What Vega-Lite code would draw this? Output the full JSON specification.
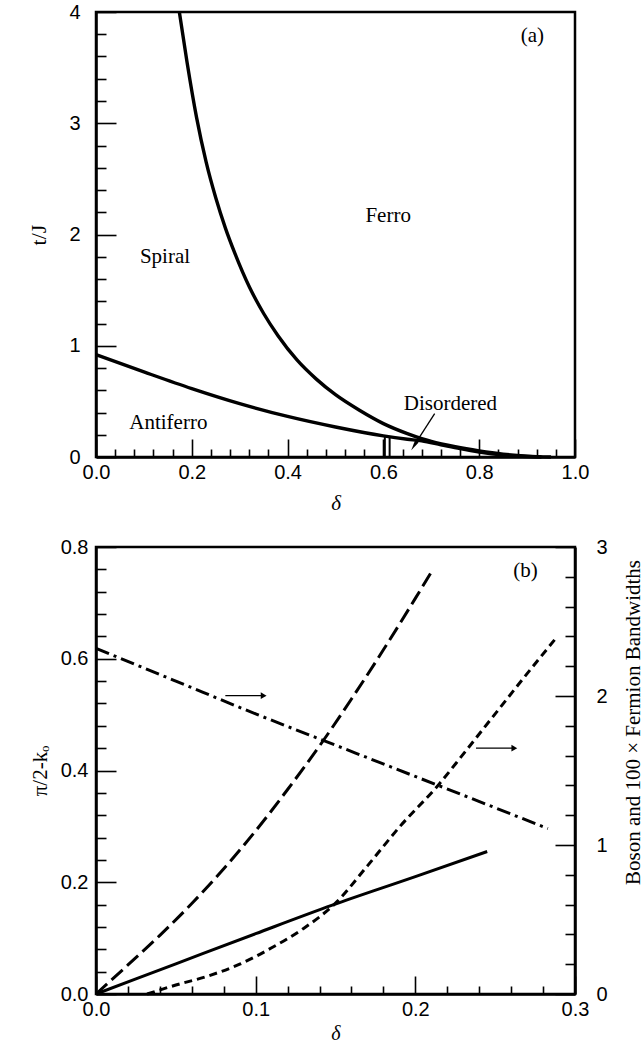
{
  "$schema": "https://vega.github.io/schema/vega-lite/v6.json",
  "background": "white",
  "padding": {"left": 25, "top": 0, "right": 0, "bottom": 0},
  "spacing": 90,
  "bounds": "flush",
  "config": {
    "view": {"stroke": "black", "strokeWidth": 2.5},
    "axis": {
      "domainColor": "black", "domainWidth": 2.5,
      "tickColor": "black", "tickWidth": 1.6,
      "labelFont": "Liberation Sans", "labelFontSize": 20, "labelColor": "black",
      "titleFont": "Liberation Serif", "titleFontWeight": "normal", "titleColor": "black",
      "grid": false, "labelOverlap": false, "labelFlush": false, "labelBound": false, "zindex": 1
    },
    "text": {"font": "Liberation Serif", "fontSize": 21, "color": "black"}
  },
  "datasets": {
    "phase": [
      {"curve": "spiral_ferro", "d": 0.174, "t": 4.0},
      {"curve": "spiral_ferro", "d": 0.19, "t": 3.55},
      {"curve": "spiral_ferro", "d": 0.21, "t": 3.05},
      {"curve": "spiral_ferro", "d": 0.23, "t": 2.65},
      {"curve": "spiral_ferro", "d": 0.25, "t": 2.33},
      {"curve": "spiral_ferro", "d": 0.27, "t": 2.06},
      {"curve": "spiral_ferro", "d": 0.29, "t": 1.83},
      {"curve": "spiral_ferro", "d": 0.32, "t": 1.53},
      {"curve": "spiral_ferro", "d": 0.35, "t": 1.29},
      {"curve": "spiral_ferro", "d": 0.38, "t": 1.09},
      {"curve": "spiral_ferro", "d": 0.42, "t": 0.87},
      {"curve": "spiral_ferro", "d": 0.46, "t": 0.70},
      {"curve": "spiral_ferro", "d": 0.50, "t": 0.56},
      {"curve": "spiral_ferro", "d": 0.55, "t": 0.42},
      {"curve": "spiral_ferro", "d": 0.60, "t": 0.30},
      {"curve": "spiral_ferro", "d": 0.65, "t": 0.21},
      {"curve": "spiral_ferro", "d": 0.68, "t": 0.165},
      {"curve": "spiral_ferro", "d": 0.70, "t": 0.14},
      {"curve": "spiral_ferro", "d": 0.75, "t": 0.092},
      {"curve": "spiral_ferro", "d": 0.80, "t": 0.055},
      {"curve": "spiral_ferro", "d": 0.85, "t": 0.026},
      {"curve": "spiral_ferro", "d": 0.90, "t": 0.008},
      {"curve": "spiral_ferro", "d": 0.95, "t": 0.0},
      {"curve": "antiferro", "d": 0.0, "t": 0.92},
      {"curve": "antiferro", "d": 0.1, "t": 0.765},
      {"curve": "antiferro", "d": 0.2, "t": 0.615},
      {"curve": "antiferro", "d": 0.3, "t": 0.48},
      {"curve": "antiferro", "d": 0.4, "t": 0.365},
      {"curve": "antiferro", "d": 0.5, "t": 0.27},
      {"curve": "antiferro", "d": 0.6, "t": 0.19},
      {"curve": "antiferro", "d": 0.65, "t": 0.16},
      {"curve": "antiferro", "d": 0.68, "t": 0.145},
      {"curve": "antiferro", "d": 0.72, "t": 0.11},
      {"curve": "antiferro", "d": 0.76, "t": 0.075},
      {"curve": "antiferro", "d": 0.80, "t": 0.045},
      {"curve": "antiferro", "d": 0.85, "t": 0.018},
      {"curve": "antiferro", "d": 0.90, "t": 0.004},
      {"curve": "antiferro", "d": 0.93, "t": 0.0}
    ],
    "phaseRules": [
      {"d": 0.603, "t0": 0, "t1": 0.19},
      {"d": 0.613, "t0": 0, "t1": 0.185}
    ],
    "labelsA": [
      {"label": "Spiral", "d": 0.144, "t": 1.80},
      {"label": "Ferro", "d": 0.61, "t": 2.17},
      {"label": "Antiferro", "d": 0.151, "t": 0.31},
      {"label": "Disordered", "d": 0.74, "t": 0.48},
      {"label": "(a)", "d": 0.911, "t": 3.78}
    ],
    "arrowA": [{"d0": 0.707, "t0": 0.39, "d1": 0.668, "t1": 0.13}],
    "arrowHeadA": [{"d": 0.664, "t": 0.10}],
    "band": [
      {"curve": "left_1", "d": 0.0, "v": 0.0},
      {"curve": "left_1", "d": 0.02, "v": 0.052},
      {"curve": "left_1", "d": 0.04, "v": 0.105},
      {"curve": "left_1", "d": 0.06, "v": 0.162},
      {"curve": "left_1", "d": 0.08, "v": 0.224},
      {"curve": "left_1", "d": 0.10, "v": 0.292},
      {"curve": "left_1", "d": 0.12, "v": 0.366},
      {"curve": "left_1", "d": 0.14, "v": 0.444},
      {"curve": "left_1", "d": 0.16, "v": 0.528},
      {"curve": "left_1", "d": 0.18, "v": 0.616},
      {"curve": "left_1", "d": 0.20, "v": 0.708},
      {"curve": "left_1", "d": 0.211, "v": 0.76},
      {"curve": "left_2", "d": 0.0, "v": 0.0},
      {"curve": "left_2", "d": 0.05, "v": 0.054},
      {"curve": "left_2", "d": 0.10, "v": 0.108},
      {"curve": "left_2", "d": 0.148, "v": 0.159},
      {"curve": "left_2", "d": 0.20, "v": 0.21},
      {"curve": "left_2", "d": 0.245, "v": 0.255}
    ],
    "bandRight": [
      {"curve": "right_1", "d": 0.0, "r": 2.32},
      {"curve": "right_1", "d": 0.05, "r": 2.10},
      {"curve": "right_1", "d": 0.10, "r": 1.88},
      {"curve": "right_1", "d": 0.15, "r": 1.67},
      {"curve": "right_1", "d": 0.20, "r": 1.46},
      {"curve": "right_1", "d": 0.25, "r": 1.25},
      {"curve": "right_1", "d": 0.283, "r": 1.11},
      {"curve": "right_2", "d": 0.032, "r": 0.0},
      {"curve": "right_2", "d": 0.05, "r": 0.06},
      {"curve": "right_2", "d": 0.07, "r": 0.12},
      {"curve": "right_2", "d": 0.09, "r": 0.2},
      {"curve": "right_2", "d": 0.11, "r": 0.31},
      {"curve": "right_2", "d": 0.13, "r": 0.44},
      {"curve": "right_2", "d": 0.15, "r": 0.61},
      {"curve": "right_2", "d": 0.17, "r": 0.86},
      {"curve": "right_2", "d": 0.19, "r": 1.12},
      {"curve": "right_2", "d": 0.215, "r": 1.41},
      {"curve": "right_2", "d": 0.23, "r": 1.61},
      {"curve": "right_2", "d": 0.25, "r": 1.88},
      {"curve": "right_2", "d": 0.27, "r": 2.15},
      {"curve": "right_2", "d": 0.289, "r": 2.40}
    ],
    "arrowsB": [
      {"d0": 0.081, "d1": 0.105, "v": 0.534},
      {"d0": 0.238, "d1": 0.262, "v": 0.44}
    ],
    "labelsB": [{"label": "(b)", "d": 0.269, "v": 0.757}]
  },
  "vconcat": [
    {
      "width": 479,
      "height": 445,
      "encoding": {
        "x": {
          "field": "d", "type": "quantitative",
          "scale": {"domain": [0, 1], "nice": false, "zero": false},
          "axis": {
            "title": "δ", "titleFontStyle": "italic", "titleFontSize": 21, "titleY": 35,
            "values": [0,0.04,0.08,0.12,0.16,0.2,0.24,0.28,0.32,0.36,0.4,0.44,0.48,0.52,0.56,0.6,0.64,0.68,0.72,0.76,0.8,0.84,0.88,0.92,0.96,1],
            "tickSize": {"condition": {"test": "abs(datum.value*5 - round(datum.value*5)) < 0.001", "value": -18}, "value": -8},
            "labelExpr": "abs(datum.value*5 - round(datum.value*5)) < 0.001 ? format(datum.value, '.1f') : ''",
            "labelPadding": 23
          }
        },
        "y": {
          "field": "t", "type": "quantitative",
          "scale": {"domain": [0, 4], "nice": false, "zero": false},
          "axis": {
            "title": "t/J", "titleFontSize": 22, "titleX": -46,
            "values": [0,0.2,0.4,0.6,0.8,1,1.2,1.4,1.6,1.8,2,2.2,2.4,2.6,2.8,3,3.2,3.4,3.6,3.8,4],
            "tickSize": {"condition": {"test": "abs(datum.value - round(datum.value)) < 0.001", "value": -20}, "value": -10},
            "labelExpr": "abs(datum.value - round(datum.value)) < 0.001 ? format(datum.value, 'd') : ''",
            "labelPadding": 36
          }
        }
      },
      "layer": [
        {
          "data": {"name": "phase"},
          "mark": {"type": "line", "color": "black", "strokeWidth": 3.4, "interpolate": "monotone"},
          "encoding": {"detail": {"field": "curve"}}
        },
        {
          "data": {"name": "phaseRules"},
          "mark": {"type": "rule", "color": "black", "strokeWidth": 2},
          "encoding": {"y": {"field": "t0", "type": "quantitative"}, "y2": {"field": "t1"}}
        },
        {
          "data": {"name": "arrowA"},
          "mark": {"type": "rule", "color": "black", "strokeWidth": 1.3},
          "encoding": {
            "x": {"field": "d0", "type": "quantitative"},
            "y": {"field": "t0", "type": "quantitative"},
            "x2": {"field": "d1"},
            "y2": {"field": "t1"}
          }
        },
        {
          "data": {"name": "arrowHeadA"},
          "mark": {"type": "point", "shape": "M0,1L-0.4,-1L0.4,-1Z", "filled": true, "color": "black", "size": 110, "angle": 32.5, "opacity": 1},
          "encoding": {}
        },
        {
          "data": {"name": "labelsA"},
          "mark": {"type": "text", "baseline": "middle", "align": "center"},
          "encoding": {"text": {"field": "label"}}
        }
      ]
    },
    {
      "width": 479,
      "height": 447,
      "resolve": {"scale": {"y": "independent"}},
      "encoding": {
        "x": {
          "field": "d", "type": "quantitative",
          "scale": {"domain": [0, 0.3], "nice": false, "zero": false},
          "axis": {
            "title": "δ", "titleFontStyle": "italic", "titleFontSize": 20, "titleY": 45, "titleBaseline": "alphabetic",
            "values": [0,0.02,0.04,0.06,0.08,0.1,0.12,0.14,0.16,0.18,0.2,0.22,0.24,0.26,0.28,0.3],
            "tickSize": {"condition": {"test": "abs(datum.value*10 - round(datum.value*10)) < 0.001", "value": -18}, "value": -8},
            "labelExpr": "abs(datum.value*10 - round(datum.value*10)) < 0.001 ? format(datum.value, '.1f') : ''",
            "labelPadding": 23
          }
        }
      },
      "layer": [
        {
          "encoding": {
            "y": {
              "field": "v", "type": "quantitative",
              "scale": {"domain": [0, 0.8], "nice": false, "zero": false},
              "axis": {
                "title": "π/2-kₒ", "titleFontSize": 21, "titleX": -46,
                "values": [0,0.04,0.08,0.12,0.16,0.2,0.24,0.28,0.32,0.36,0.4,0.44,0.48,0.52,0.56,0.6,0.64,0.68,0.72,0.76,0.8],
                "tickSize": {"condition": {"test": "abs(datum.value*5 - round(datum.value*5)) < 0.001", "value": -20}, "value": -10},
                "labelExpr": "abs(datum.value*5 - round(datum.value*5)) < 0.001 ? format(datum.value, '.1f') : ''",
                "labelPadding": 28
              }
            }
          },
          "layer": [
            {
              "data": {"name": "band"},
              "transform": [{"filter": "datum.curve == 'left_1'"}],
              "mark": {"type": "line", "color": "black", "strokeWidth": 3, "strokeDash": [15, 6], "interpolate": "monotone"},
              "encoding": {}
            },
            {
              "data": {"name": "band"},
              "transform": [{"filter": "datum.curve == 'left_2'"}],
              "mark": {"type": "line", "color": "black", "strokeWidth": 3, "interpolate": "monotone"},
              "encoding": {}
            },
            {
              "data": {"name": "arrowsB"},
              "mark": {"type": "rule", "color": "black", "strokeWidth": 1.3},
              "encoding": {"x": {"field": "d0", "type": "quantitative"}, "x2": {"field": "d1"}}
            },
            {
              "data": {"name": "arrowsB"},
              "mark": {"type": "point", "shape": "triangle-right", "filled": true, "color": "black", "size": 45, "opacity": 1},
              "encoding": {"x": {"field": "d1", "type": "quantitative"}}
            },
            {
              "data": {"name": "labelsB"},
              "mark": {"type": "text", "baseline": "middle", "align": "center"},
              "encoding": {"text": {"field": "label"}}
            }
          ]
        },
        {
          "data": {"name": "bandRight"},
          "encoding": {
            "y": {
              "field": "r", "type": "quantitative",
              "scale": {"domain": [0, 3], "nice": false, "zero": false},
              "axis": {
                "orient": "right",
                "title": "Boson and 100 × Fermion Bandwidths", "titleFontSize": 21,
                "titleAngle": 270, "titleX": 64, "titleY": 175, "titleBaseline": "alphabetic", "titleAlign": "center",
                "values": [0,0.2,0.4,0.6,0.8,1,1.2,1.4,1.6,1.8,2,2.2,2.4,2.6,2.8,3],
                "tickSize": {"condition": {"test": "abs(datum.value - round(datum.value)) < 0.001", "value": -20}, "value": -10},
                "labelExpr": "abs(datum.value - round(datum.value)) < 0.001 ? format(datum.value, 'd') : ''",
                "labelPadding": 41
              }
            }
          },
          "layer": [
            {
              "transform": [{"filter": "datum.curve == 'right_1'"}],
              "mark": {"type": "line", "color": "black", "strokeWidth": 3, "strokeDash": [14, 5, 3, 5], "interpolate": "monotone"},
              "encoding": {}
            },
            {
              "transform": [{"filter": "datum.curve == 'right_2'"}],
              "mark": {"type": "line", "color": "black", "strokeWidth": 3, "strokeDash": [8, 5], "interpolate": "monotone"},
              "encoding": {}
            }
          ]
        }
      ]
    }
  ]
}
